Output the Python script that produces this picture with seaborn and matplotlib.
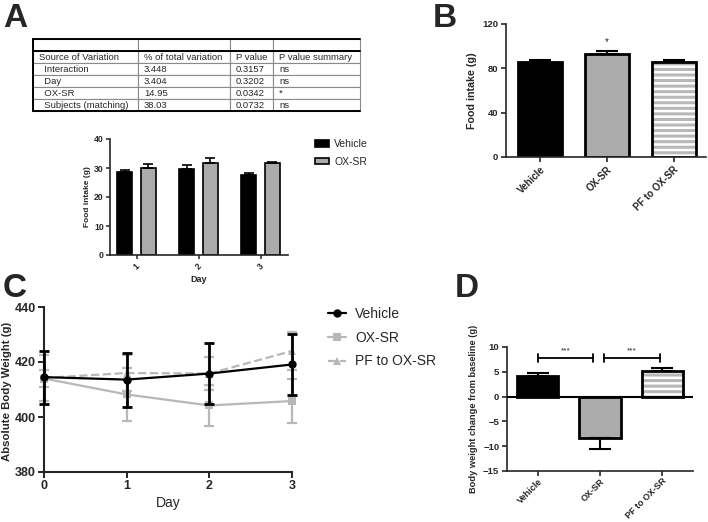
import numpy as np
import pandas as pd
import matplotlib
matplotlib.use("Agg")
import matplotlib.pyplot as plt
from matplotlib.patches import Rectangle
import seaborn as sns

# Panel A - ANOVA table
table_header = ["Source of Variation", "% of total variation", "P value", "P value summary"]
table_sources = ["Interaction", "Day", "OX-SR", "Subjects (matching)"]
table_pct = ["3.448", "3.404", "14.95", "38.03"]
table_p = ["0.3157", "0.3202", "0.0342", "0.0732"]
table_summary = ["ns", "ns", "*", "ns"]

# Panel A - daily food intake
days_a = ["1", "2", "3"]
intake_vehicle = [28.5, 29.6, 27.5]
intake_vehicle_sem = [0.8, 1.3, 0.9]
intake_oxsr = [29.9, 31.6, 31.6]
intake_oxsr_sem = [1.4, 1.9, 0.4]

# Panel B - total food intake
groups = ["Vehicle", "OX-SR", "PF to OX-SR"]
total_intake = [85.3, 92.6, 85.3]
total_intake_sem = [2.1, 3.3, 2.1]
total_sig = ["", "*", ""]

# Panel C - absolute body weight
days_c = [0, 1, 2, 3]
bw_vehicle = [414.5, 413.6, 415.8, 419.1]
bw_vehicle_sem = [9.6, 9.8, 11.0, 11.0]
bw_oxsr = [414.0, 408.2, 404.2, 405.8]
bw_oxsr_sem = [3.0, 9.7, 7.6, 8.1]
bw_pf = [414.2, 416.0, 415.8, 424.0]
bw_pf_sem = [8.3, 6.5, 6.0, 7.0]

# Panel D - body weight change
bw_change = [4.15, -8.3, 5.1]
bw_change_sem = [0.7, 2.3, 0.7]
comparisons = [(0, 0.89), (1.06, 1.96)]
comparison_y = 7.85
comparison_labels = ["***", "***"]

BLACK = "black"
GRAY = "#ababab"
LGRAY = "#b8b8b8"

sns.set_style("ticks")
plt.rcParams["font.family"] = ["Liberation Sans", "DejaVu Sans"]
plt.rcParams["hatch.linewidth"] = 2.2
plt.rcParams["axes.linewidth"] = 1.2

W, H = 708, 522
fig = plt.figure(figsize=(W / 100, H / 100), dpi=100)


def box(l, t, r, b):
    return [l / W, 1 - b / H, (r - l) / W, (b - t) / H]


def bold_ticks(ax, size):
    for lab in ax.get_xticklabels() + ax.get_yticklabels():
        lab.set_fontweight("bold")
        lab.set_fontsize(size)


def bar_errors(ax, bars, sem, lw, cap):
    xs = [p.get_x() + p.get_width() / 2 for p in bars]
    ys = [p.get_y() + p.get_height() for p in bars]
    lo = [s if y < 0 else 0 for y, s in zip(ys, sem)]
    hi = [s if y >= 0 else 0 for y, s in zip(ys, sem)]
    ax.errorbar(xs, ys, yerr=[lo, hi], fmt="none", ecolor="black",
                elinewidth=lw, capsize=cap, capthick=lw)
    return xs, ys


def striped(ax, bar):
    # GraphPad-like horizontal stripes for the pair-fed group
    bar.set_hatch("---")
    bar.set_edgecolor(LGRAY)
    bar.set_linewidth(0)
    ax.add_patch(Rectangle(bar.get_xy(), bar.get_width(), bar.get_height(),
                           fill=False, edgecolor="black", lw=2,
                           zorder=bar.get_zorder() + 0.1))


def slanted(ax, size):
    for lab in ax.get_xticklabels():
        lab.set_rotation(45)
        lab.set_ha("right")
        lab.set_rotation_mode("anchor")
        lab.set_fontsize(size)


# ---------- Panel A table ----------
ax_t = fig.add_axes(box(33, 39, 360, 111))
ax_t.axis("off")
rows = [["", "", "", ""], table_header]
for s, pc, p, sm in zip(table_sources, table_pct, table_p, table_summary):
    rows.append(["  " + s, pc, p, sm])
col_px = [105, 92, 43, 87]
tab = ax_t.table(cellText=rows, colWidths=[c / sum(col_px) for c in col_px],
                 cellLoc="left", bbox=[0, 0, 1, 1])
tab.auto_set_font_size(False)
for (r, c), cell in tab.get_celld().items():
    cell.set_edgecolor("#8a8a8a")
    cell.set_linewidth(0.8)
    cell.PAD = 6 / col_px[c]
    cell.get_text().set_fontsize(6.8)
ax_t.set_xlim(0, 1)
ax_t.set_ylim(0, 1)
for y in [1, 5 / 6, 0]:
    ax_t.axhline(y, color="black", lw=1.4, clip_on=False)
ax_t.axvline(0, color="black", lw=1.4, clip_on=False)

# ---------- Panel A bars ----------
ax_a = fig.add_axes(box(110, 139, 288, 255))
df_a = pd.DataFrame({"Day": days_a * 2,
                     "intake": intake_vehicle + intake_oxsr,
                     "group": ["Vehicle"] * 3 + ["OX-SR"] * 3})
sns.barplot(data=df_a, x="Day", y="intake", hue="group", palette=[BLACK, GRAY],
            width=0.76, gap=0.36, edgecolor="black", linewidth=1.2,
            errorbar=None, legend=False, ax=ax_a)
for cont, sem in zip(ax_a.containers, [intake_vehicle_sem, intake_oxsr_sem]):
    bar_errors(ax_a, cont, sem, 1.2, 3.5)
ax_a.set_ylim(0, 40)
ax_a.set_yticks([0, 10, 20, 30, 40])
ax_a.set_xlim(-0.43, 2.44)
sns.despine(ax=ax_a)
ax_a.tick_params(length=3, width=1.1, pad=1.5)
ax_a.tick_params(axis="x", rotation=45)
bold_ticks(ax_a, 6.2)
ax_a.set_xlabel("Day", fontsize=6.5, fontweight="bold", labelpad=3)
ax_a.set_ylabel("Food intake (g)", fontsize=6, fontweight="bold", labelpad=2)
handles_a = [Rectangle((0, 0), 1, 1, facecolor=c, edgecolor="black", lw=1.2)
             for c in [BLACK, GRAY]]
ax_a.legend(handles_a, ["Vehicle", "OX-SR"], loc="upper left",
            bbox_to_anchor=(315 / W, 1 - 139 / H), bbox_transform=fig.transFigure,
            frameon=False, fontsize=7.5, handlelength=1.35, handleheight=0.6,
            handletextpad=0.5, labelspacing=0.75, borderpad=0, borderaxespad=0)

# ---------- Panel B ----------
ax_b = fig.add_axes(box(506, 24, 706, 157))
sns.barplot(x=groups, y=total_intake, hue=groups, palette=[BLACK, GRAY, "white"],
            width=0.66, edgecolor="black", linewidth=2, errorbar=None,
            legend=False, ax=ax_b)
bars_b = list(ax_b.patches)[:3]
striped(ax_b, bars_b[2])
xs_b, ys_b = bar_errors(ax_b, bars_b, total_intake_sem, 1.5, 8)
for x, y, s, lab in zip(xs_b, ys_b, total_intake_sem, total_sig):
    if lab:
        ax_b.text(x, y + s + 3, lab, ha="center", va="bottom", fontsize=7)
ax_b.set_ylim(0, 120)
ax_b.set_yticks([0, 40, 80, 120])
ax_b.set_xlim(-0.51, 2.485)
sns.despine(ax=ax_b)
ax_b.tick_params(length=3.5, width=1.2, pad=2)
bold_ticks(ax_b, 6.8)
slanted(ax_b, 7)
ax_b.set_ylabel("Food intake (g)", fontsize=7.7, fontweight="bold", labelpad=4)

# ---------- Panel C ----------
ax_c = fig.add_axes(box(44, 307, 292, 472))
series_c = [
    ("PF to OX-SR", bw_pf, bw_pf_sem, LGRAY, "^", "--", 3),
    ("OX-SR", bw_oxsr, bw_oxsr_sem, LGRAY, "s", "-", 4),
    ("Vehicle", bw_vehicle, bw_vehicle_sem, BLACK, "o", "-", 6),
]
for name, vals, sem, col, mk, ls, z in series_c:
    sns.lineplot(x=days_c, y=vals, color=col, marker=mk, linestyle=ls, lw=1.6,
                 markersize=6, mec=col, mew=0, label=name, errorbar=None,
                 ax=ax_c, zorder=z, clip_on=False)
    eb = ax_c.errorbar(days_c, vals, yerr=sem, fmt="none", ecolor=col,
                       elinewidth=2 if col == BLACK else 1.6, capsize=3.5,
                       capthick=2 if col == BLACK else 1.6, zorder=z - 0.5)
    for a in eb.get_children():
        a.set_clip_on(False)
ax_c.set_xlim(0, 3)
ax_c.set_ylim(380, 440)
ax_c.set_xticks(days_c)
ax_c.set_yticks([380, 400, 420, 440])
sns.despine(ax=ax_c)
for sp in ax_c.spines.values():
    sp.set_linewidth(1.5)
ax_c.tick_params(length=4, width=1.4, pad=2)
bold_ticks(ax_c, 9)
ax_c.set_xlabel("Day", fontsize=10, labelpad=3)
ax_c.set_ylabel("Absolute Body Weight (g)", fontsize=8.2, fontweight="bold")
ax_c.yaxis.set_label_coords(-0.128, 0.49)
h, l = ax_c.get_legend_handles_labels()
order = [l.index(g) for g in groups]
ax_c.legend([h[i] for i in order], [l[i] for i in order], loc="upper left",
            bbox_to_anchor=(328 / W, 1 - 307 / H), bbox_transform=fig.transFigure,
            frameon=False, fontsize=10, handlelength=1.3, handletextpad=0.65,
            labelspacing=0.7, borderpad=0, borderaxespad=0)

# ---------- Panel D ----------
ax_d = fig.add_axes(box(507, 347, 693, 471))
sns.barplot(x=groups, y=bw_change, hue=groups, palette=[BLACK, GRAY, "white"],
            width=0.66, edgecolor="black", linewidth=2, errorbar=None,
            legend=False, ax=ax_d)
bars_d = list(ax_d.patches)[:3]
striped(ax_d, bars_d[2])
bar_errors(ax_d, bars_d, bw_change_sem, 1.5, 8)
ax_d.axhline(0, color="black", lw=1.5, zorder=5)
for (x0, x1), lab in zip(comparisons, comparison_labels):
    ax_d.plot([x0, x1], [comparison_y] * 2, color="black", lw=1.3)
    for xe in (x0, x1):
        ax_d.plot([xe, xe], [comparison_y - 0.8, comparison_y + 0.8], color="black", lw=1.3)
    ax_d.text((x0 + x1) / 2, comparison_y + 0.6, lab, ha="center", va="bottom", fontsize=6)
ax_d.set_ylim(-15, 10)
ax_d.set_yticks([-15, -10, -5, 0, 5, 10])
ax_d.set_xlim(-0.49, 2.49)
sns.despine(ax=ax_d)
ax_d.tick_params(length=3.5, width=1.2, pad=2)
ax_d.tick_params(axis="x", pad=0.5)
bold_ticks(ax_d, 6.8)
slanted(ax_d, 6.5)
ax_d.set_ylabel("Body weight change from baseline (g)", fontsize=6.7,
                fontweight="bold", labelpad=4)

# panel letters
for letter, (px, py) in zip("ABCD", [(3, 3), (433, 3), (3, 273), (455, 273)]):
    fig.text(px / W, 1 - py / H, letter, fontsize=24, fontweight="bold",
             ha="left", va="top")

fig.savefig("out.png", dpi=100)
